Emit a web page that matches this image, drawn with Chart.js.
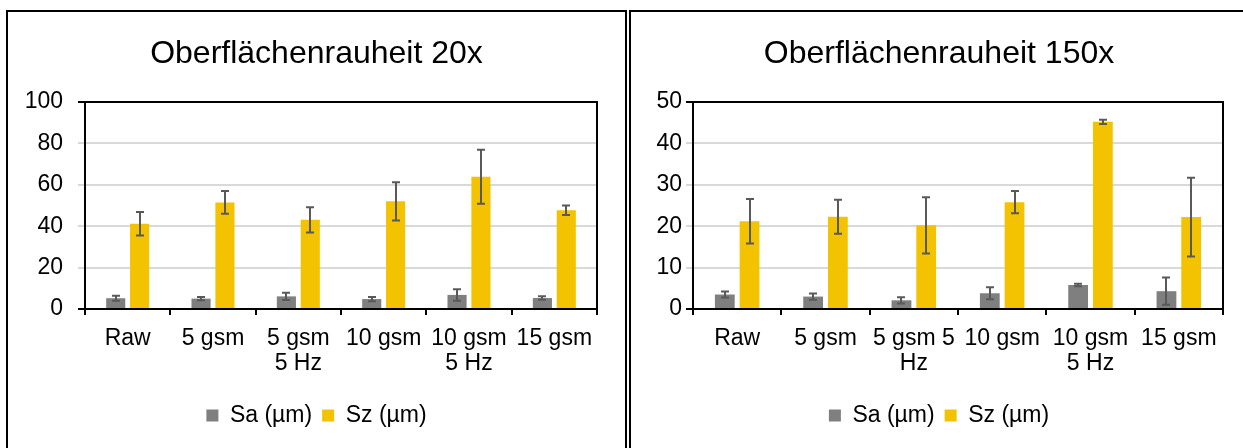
<!DOCTYPE html>
<html lang="de">
<head>
<meta charset="utf-8">
<title>Oberflächenrauheit</title>
<script src="https://cdn.jsdelivr.net/npm/chart.js@4.4.1/dist/chart.umd.min.js"></script>
<style>
  html, body { margin: 0; padding: 0; background: #fff; overflow: hidden; }
  body { width: 1243px; height: 448px; position: relative; font-family: "Liberation Sans", Arial, sans-serif; }
  .panel { position: absolute; top: 10px; height: 450px; border: 2px solid #000; box-sizing: border-box; background: #fff; }
  #p1 { left: 6px; width: 621px; }
  #p2 { left: 629px; width: 620px; }
  canvas { display: block; }
</style>
</head>
<body>
<div class="panel" id="p1"><canvas id="c1" width="617" height="436"></canvas></div>
<div class="panel" id="p2"><canvas id="c2" width="616" height="436"></canvas></div>
<script>
// Oberflächenrauheit, 20x objective
const labels20 = ['Raw', '5 gsm', ['5 gsm', '5 Hz'], '10 gsm', ['10 gsm', '5 Hz'], '15 gsm'];
const sa20 = [5.2, 5.0, 6.1, 4.8, 6.8, 5.3];
const sa20Err = [1.2, 0.8, 1.8, 1.0, 2.8, 0.8];
const sz20 = [41.2, 51.5, 43.1, 52.0, 63.9, 47.7];
const sz20Err = [5.7, 5.5, 6.1, 9.2, 13.0, 2.3];
const yTicks20 = [0, 20, 40, 60, 80, 100];

// Oberflächenrauheit, 150x objective
const labels150 = ['Raw', '5 gsm', ['5 gsm 5', 'Hz'], '10 gsm', ['10 gsm', '5 Hz'], '15 gsm'];
const sa150 = [3.5, 3.0, 2.1, 3.8, 5.8, 4.3];
const sa150Err = [0.7, 0.75, 0.75, 1.45, 0.3, 3.3];
const sz150 = [21.2, 22.3, 20.2, 25.8, 45.2, 22.2];
const sz150Err = [5.4, 4.1, 6.8, 2.7, 0.5, 9.5];
const yTicks150 = [0, 10, 20, 30, 40, 50];

const seriesNames = ['Sa (µm)', 'Sz (µm)'];

const FONT = "'Liberation Sans', Arial, sans-serif";
const GRAY = '#7f7f7f';
const GOLD = '#f3c200';
const ERR = '#595959';

// whiskers drawn from each bar's value ± its error through the y scale
const errorBars = {
  id: 'errorBars',
  afterDatasetsDraw(chart) {
    const ctx = chart.ctx;
    const yScale = chart.scales.y;
    ctx.save();
    ctx.strokeStyle = ERR;
    ctx.lineWidth = 2;
    chart.data.datasets.forEach((ds, di) => {
      const meta = chart.getDatasetMeta(di);
      meta.data.forEach((bar, i) => {
        const v = ds.data[i], e = ds.errors[i];
        const yHi = yScale.getPixelForValue(v + e);
        const yLo = yScale.getPixelForValue(v - e);
        const x = Math.round(bar.x);
        ctx.beginPath();
        ctx.moveTo(x, yHi); ctx.lineTo(x, yLo);
        ctx.moveTo(x - 4, yHi); ctx.lineTo(x + 4, yHi);
        ctx.moveTo(x - 4, yLo); ctx.lineTo(x + 4, yLo);
        ctx.stroke();
      });
    });
    ctx.restore();
  }
};

function makeChart(id, title, cats, sa, saErr, sz, szErr, yTicks, leftWidth, rightWidth, labelPad) {
  const yMax = yTicks[yTicks.length - 1];
  const step = yTicks[1] - yTicks[0];
  return new Chart(document.getElementById(id), {
    type: 'bar',
    data: {
      labels: cats,
      datasets: [
        { label: seriesNames[0], data: sa, errors: saErr, backgroundColor: GRAY, borderWidth: 0,
          categoryPercentage: 0.56, barPercentage: 0.8 },
        { label: seriesNames[1], data: sz, errors: szErr, backgroundColor: GOLD, borderWidth: 0,
          categoryPercentage: 0.56, barPercentage: 0.8 }
      ]
    },
    plugins: [errorBars],
    options: {
      responsive: false,
      animation: false,
      devicePixelRatio: 1,
      layout: { padding: { top: 0, left: 0, right: 0, bottom: 11 } },
      plugins: {
        tooltip: { enabled: false },
        title: {
          display: true, text: title, color: '#000',
          font: { family: FONT, size: 32, weight: 'normal', lineHeight: 1 },
          padding: { top: 26, bottom: 32 }
        },
        legend: {
          position: 'bottom',
          labels: {
            color: '#000', boxWidth: 12, boxHeight: 12, padding: 10,
            font: { family: FONT, size: 23 }
          }
        }
      },
      scales: {
        x: {
          type: 'category', position: 'bottom', offset: true,
          grid: { offset: true, drawOnChartArea: false, drawTicks: true, tickLength: 6, color: '#000', lineWidth: 2 },
          border: { display: true, color: '#000', width: 2 },
          ticks: { color: '#000', font: { family: FONT, size: 23, lineHeight: 1.05 }, padding: 12,
                   maxRotation: 0, minRotation: 0, autoSkip: false },
          afterFit(s) { s.height = 85; }
        },
        xTop: {
          type: 'category', position: 'top', labels: cats,
          grid: { display: false }, ticks: { display: false },
          border: { display: true, color: '#000', width: 2 },
          afterFit(s) { s.height = 0; }
        },
        y: {
          type: 'linear', position: 'left', min: 0, max: yMax,
          afterBuildTicks(s) { s.ticks = yTicks.map(v => ({ value: v })); },
          grid: {
            color: '#d9d9d9', lineWidth: 2, drawTicks: true, tickLength: 7,
            tickColor: c => (c.tick && (c.tick.value === 0 || c.tick.value === yMax)) ? '#000' : '#d9d9d9'
          },
          border: { display: true, color: '#000', width: 2 },
          ticks: { color: '#000', font: { family: FONT, size: 23 }, padding: labelPad, stepSize: step },
          afterFit(s) { s.width = leftWidth; }
        },
        yRight: {
          type: 'linear', position: 'right', min: 0, max: yMax,
          grid: { display: false }, ticks: { display: false },
          border: { display: true, color: '#000', width: 2 },
          afterFit(s) { s.width = rightWidth; }
        }
      }
    }
  });
}

makeChart('c1', 'Oberflächenrauheit 20x', labels20, sa20, sa20Err, sz20, sz20Err, yTicks20, 77, 28, 15);
makeChart('c2', 'Oberflächenrauheit 150x', labels150, sa150, sa150Err, sz150, sz150Err, yTicks150, 62, 24, 4);
</script>
</body>
</html>
